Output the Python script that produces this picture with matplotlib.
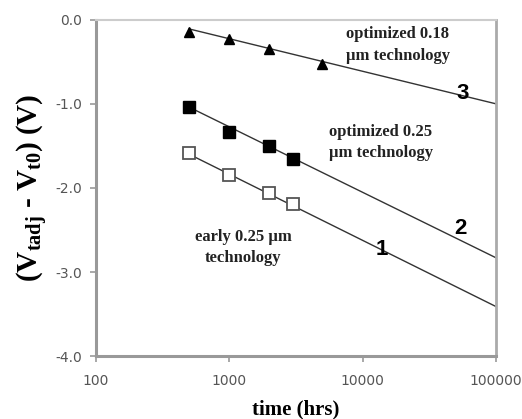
import matplotlib
matplotlib.use("Agg")
import matplotlib.pyplot as plt
from matplotlib.ticker import FixedLocator, FixedFormatter, NullLocator

# measured points
hrs_3 = [500, 1000, 2000, 5000]
dv_3 = [-0.15, -0.23, -0.35, -0.53]
hrs_2 = [500, 1000, 2000, 3000]
dv_2 = [-1.04, -1.33, -1.50, -1.66]
hrs_1 = [500, 1000, 2000, 3000]
dv_1 = [-1.59, -1.85, -2.06, -2.19]

# fitted lines (end points)
fit_hrs = [500, 100000]
fit_3 = [-0.11, -1.00]
fit_2 = [-1.04, -2.83]
fit_1 = [-1.60, -3.41]

xticks = [100, 1000, 10000, 100000]
xtick_labels = ["100", "1000", "10000", "100000"]
yticks = [0.0, -1.0, -2.0, -3.0, -4.0]
ytick_labels = ["0.0", "-1.0", "-2.0", "-3.0", "-4.0"]

plt.rcParams["mathtext.fontset"] = "custom"
plt.rcParams["mathtext.rm"] = "Liberation Serif:bold"
plt.rcParams["mathtext.bf"] = "Liberation Serif:bold"

fig = plt.figure(figsize=(5.22, 4.19), dpi=100)
ax = fig.add_axes([0.184, 0.150, 0.766, 0.803])

line_col = "#333333"
ax.plot(fit_hrs, fit_3, color=line_col, lw=1.0)
ax.plot(fit_hrs, fit_2, color=line_col, lw=1.0)
ax.plot(fit_hrs, fit_1, color=line_col, lw=1.0)

ax.plot(hrs_3, dv_3, "^", color="black", ms=7, ls="none")
ax.plot(hrs_2, dv_2, "s", color="black", ms=8, ls="none")
ax.plot(hrs_1, dv_1, "s", mfc="white", mec="#555555", mew=1.3, ms=8, ls="none")

ax.set_xscale("log")
ax.set_xlim(100, 100000)
ax.set_ylim(-4.0, 0.0)
ax.xaxis.set_major_locator(FixedLocator(xticks))
ax.xaxis.set_major_formatter(FixedFormatter(xtick_labels))
ax.xaxis.set_minor_locator(NullLocator())
ax.yaxis.set_major_locator(FixedLocator(yticks))
ax.yaxis.set_major_formatter(FixedFormatter(ytick_labels))

for side in ["left", "bottom"]:
    ax.spines[side].set_color("#999999")
    ax.spines[side].set_linewidth(2.2)
ax.spines["right"].set_color("#aaaaaa")
ax.spines["right"].set_linewidth(2.0)
ax.spines["top"].set_color("#cccccc")
ax.spines["top"].set_linewidth(1.5)

ax.tick_params(axis="both", direction="out", length=4, width=1.2,
               color="#999999", labelsize=10, labelcolor="#555555", pad=6)
ax.tick_params(axis="x", pad=9)

ax.set_xlabel("time (hrs)", fontfamily="Liberation Serif", fontweight="bold",
              fontsize=15, labelpad=8)
ax.set_ylabel(r"(V$_{\mathrm{tadj}}$ - V$_{\mathrm{t0}}$) (V)", fontsize=21,
              fontfamily="Liberation Serif", fontweight="bold", labelpad=4)

tfont = dict(fontfamily="Liberation Serif", fontweight="bold", fontsize=12,
             color="#222222", ha="center", va="center", linespacing=1.45)
ax.text(18400, -0.30, "optimized 0.18\n\u03bcm technology", **tfont)
ax.text(13700, -1.46, "optimized 0.25\n\u03bcm technology", **tfont)
ax.text(1270, -2.71, "early 0.25 \u03bcm\ntechnology", **tfont)

nfont = dict(fontfamily="Liberation Sans", fontweight="bold", fontsize=16,
             ha="center", va="center")
ax.text(56600, -0.88, "3", **nfont)
ax.text(54000, -2.48, "2", **nfont)
ax.text(14000, -2.73, "1", **nfont)

fig.savefig("out.png", dpi=100)
